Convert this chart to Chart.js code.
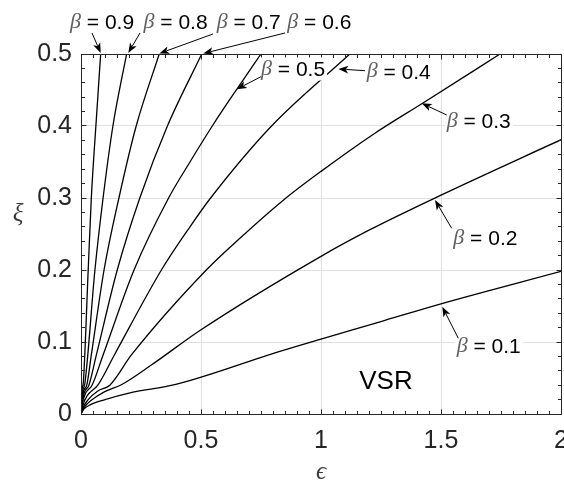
<!DOCTYPE html>
<html><head><meta charset="utf-8">
<script src="https://cdn.jsdelivr.net/npm/chart.js@4.4.0/dist/chart.umd.min.js"></script>
<style>html,body{margin:0;padding:0;background:#fff}</style>
</head><body>
<canvas id="c" width="564" height="483"></canvas>
<script>
// ---- data ----
const betaNames = ['0.1','0.2','0.3','0.4','0.5','0.6','0.7','0.8','0.9'];
const xTicks = [0, 0.5, 1, 1.5, 2];
const yTicks = [0, 0.1, 0.2, 0.3, 0.4, 0.5];

const eps_01 = [0,0.01,0.04,0.1,0.2,0.395,0.825,1.0,1.246,1.5,2.0];
const xi_01  = [0,0.006,0.013,0.02,0.029,0.041,0.0866,0.104,0.128,0.153,0.198];
const eps_02 = [0,0.015,0.043,0.099,0.17,0.293,0.5,1.0,1.204,1.5,2.0];
const xi_02  = [0,0.01,0.019,0.031,0.041,0.068,0.117,0.219,0.256,0.304,0.381];
const eps_03 = [0,0.01,0.03,0.07,0.12,0.21,0.522,0.655,0.843,1.0,1.22,1.425,1.746];
const xi_03  = [0,0.01,0.02,0.032,0.04,0.082,0.2,0.242,0.297,0.337,0.389,0.432,0.5];
const eps_04 = [0,0.008,0.025,0.07,0.139,0.335,0.454,0.54,0.794,1.12];
const xi_04  = [0,0.012,0.025,0.04,0.082,0.2,0.26,0.3,0.4,0.5];
const eps_05 = [0,0.006,0.018,0.046,0.092,0.221,0.365,0.454,0.547,0.649,0.75];
const xi_05  = [0,0.014,0.028,0.04,0.082,0.2,0.3,0.35,0.4,0.451,0.5];
const eps_06 = [0,0.005,0.014,0.033,0.064,0.151,0.245,0.36,0.503];
const xi_06  = [0,0.015,0.03,0.04,0.082,0.2,0.3,0.4,0.5];
const eps_07 = [0,0.004,0.011,0.024,0.043,0.096,0.158,0.23,0.326];
const xi_07  = [0,0.017,0.032,0.04,0.082,0.2,0.3,0.4,0.5];
const eps_08 = [0,0.003,0.008,0.016,0.058,0.092,0.133,0.19];
const xi_08  = [0,0.018,0.033,0.042,0.2,0.3,0.4,0.5];
const eps_09 = [0,0.002,0.005,0.01,0.03,0.043,0.062,0.082];
const xi_09  = [0,0.02,0.035,0.045,0.2,0.3,0.4,0.5];

const seriesEps = [eps_01,eps_02,eps_03,eps_04,eps_05,eps_06,eps_07,eps_08,eps_09];
const seriesXi  = [xi_01,xi_02,xi_03,xi_04,xi_05,xi_06,xi_07,xi_08,xi_09];

// annotation placement (data coordinates): label left/center, arrow tail, arrow tip
const notes = [
  {b:'0.9', at:[-0.0458,0.5444], tail:[0.0458,0.5292], tip:[0.0821,0.5014]},
  {b:'0.8', at:[0.2604,0.5444],  tail:[0.2458,0.5292], tip:[0.1971,0.5014]},
  {b:'0.7', at:[0.5654,0.5444],  tail:[0.55,0.5278],   tip:[0.3263,0.5007]},
  {b:'0.6', at:[0.8596,0.5444],  tail:[0.85,0.5292],   tip:[0.5096,0.5007]},
  {b:'0.5', at:[0.75,0.4792],    tail:[0.75,0.4685],   tip:[0.6488,0.451]},
  {b:'0.4', at:[1.1904,0.4754],  tail:[1.1833,0.4768], tip:[1.0721,0.4792]},
  {b:'0.3', at:[1.5238,0.406],   tail:[1.5238,0.4153], tip:[1.4196,0.4315]},
  {b:'0.2', at:[1.5513,0.244],   tail:[1.5446,0.2579], tip:[1.475,0.2972]},
  {b:'0.1', at:[1.5654,0.0935],  tail:[1.5721,0.1051], tip:[1.5054,0.149]}
];
const regionText = {text:'VSR', at:[1.2708,0.0444]};

const datasets = seriesEps.map((e,i)=>({
  label:'β = '+betaNames[i],
  data:e.map((v,j)=>({x:v,y:seriesXi[i][j]})),
  showLine:true, pointRadius:0, borderColor:'#000', borderWidth:1.3,
  cubicInterpolationMode:'monotone', fill:false
}));

const SANS = '"Liberation Sans", Arial, Helvetica, sans-serif';
const SERIF = '"Liberation Serif", "DejaVu Serif", serif';

const framePlugin = {
  id:'frame',
  afterDatasetsDraw(chart){
    const {ctx, chartArea:a, scales:{x,y}} = chart;
    const L=Math.floor(a.left)+0.5, R=Math.floor(a.right)+0.5, T=Math.floor(a.top)+0.5, B=Math.floor(a.bottom)+0.5;
    ctx.save();
    ctx.strokeStyle='#262626'; ctx.lineWidth=1;
    ctx.beginPath();
    for(let k=0;k<=40;k++){
      const v=k*0.05, px=Math.floor(x.getPixelForValue(v))+0.5, len=(k%10===0)?5:3.5;
      ctx.moveTo(px,B); ctx.lineTo(px,B-len);
      ctx.moveTo(px,T); ctx.lineTo(px,T+len);
    }
    for(let k=0;k<=25;k++){
      const v=k*0.02, py=Math.floor(y.getPixelForValue(v))+0.5, len=(k%5===0)?5:3.5;
      ctx.moveTo(L,py); ctx.lineTo(L+len,py);
      ctx.moveTo(R,py); ctx.lineTo(R-len,py);
    }
    ctx.stroke();
    ctx.strokeRect(L,T,R-L,B-T);
    ctx.restore();

    // annotations
    ctx.save();
    const fs=21;
    notes.forEach(n=>{
      const tx=x.getPixelForValue(n.at[0]), ty=y.getPixelForValue(n.at[1]);
      ctx.font='italic '+(fs+1)+'px '+SERIF;
      const wb=ctx.measureText('β').width;
      ctx.font=fs+'px '+SANS;
      const rest=' = '+n.b;
      const wr=ctx.measureText(rest).width;
      ctx.fillStyle='#fff';
      ctx.fillRect(tx-2, ty-fs*0.55, wb+wr+4, fs*1.1);
      ctx.textBaseline='middle'; ctx.textAlign='left';
      ctx.font='italic '+(fs+1)+'px '+SERIF; ctx.fillStyle='#5f5f5f';
      ctx.fillText('β',tx,ty);
      ctx.font=fs+'px '+SANS; ctx.fillStyle='#000';
      ctx.fillText(rest,tx+wb,ty+1);
      // arrow
      const x0=x.getPixelForValue(n.tail[0]), y0=y.getPixelForValue(n.tail[1]);
      const x1=x.getPixelForValue(n.tip[0]), y1=y.getPixelForValue(n.tip[1]);
      const ang=Math.atan2(y1-y0,x1-x0), hl=10, hw=3.8;
      ctx.strokeStyle='#000'; ctx.lineWidth=1;
      ctx.beginPath(); ctx.moveTo(x0,y0); ctx.lineTo(x1-Math.cos(ang)*hl*0.8,y1-Math.sin(ang)*hl*0.8); ctx.stroke();
      ctx.fillStyle='#000';
      ctx.beginPath();
      ctx.moveTo(x1,y1);
      ctx.lineTo(x1-Math.cos(ang)*hl-Math.sin(ang)*hw, y1-Math.sin(ang)*hl+Math.cos(ang)*hw);
      ctx.lineTo(x1-Math.cos(ang)*hl*0.75, y1-Math.sin(ang)*hl*0.75);
      ctx.lineTo(x1-Math.cos(ang)*hl+Math.sin(ang)*hw, y1-Math.sin(ang)*hl-Math.cos(ang)*hw);
      ctx.closePath(); ctx.fill();
    });
    ctx.font='26px '+SANS; ctx.fillStyle='#000'; ctx.textAlign='center'; ctx.textBaseline='middle';
    ctx.fillText(regionText.text, x.getPixelForValue(regionText.at[0]), y.getPixelForValue(regionText.at[1]));
    // axis titles
    ctx.font='italic 25px '+SERIF; ctx.fillStyle='#3a3a3a';
    ctx.fillText('ξ', 18, (a.top+a.bottom)/2 - 20);
    ctx.fillText('ϵ', (a.left+a.right)/2, 472);
    ctx.restore();
  }
};

new Chart(document.getElementById('c'), {
  type:'scatter',
  data:{datasets},
  options:{
    responsive:false, animation:false, devicePixelRatio:1,
    layout:{padding:{top:54,right:3,bottom:0,left:0}},
    plugins:{legend:{display:false}, tooltip:{enabled:false}},
    scales:{
      x:{type:'linear', min:0, max:2,
         afterFit(s){ s.height=69; s.paddingLeft=0; s.paddingRight=0; },
         afterBuildTicks(s){ s.ticks = xTicks.map(v=>({value:v})); },
         ticks:{font:{family:SANS,size:25}, color:'#262626', padding:12, maxRotation:0, autoSkip:false,
                callback:v=>String(v)},
         grid:{color:'#e0e0e0', lineWidth:1, drawTicks:false}, border:{display:false}},
      y:{type:'linear', min:0, max:0.5,
         afterFit(s){ s.width=81; s.paddingTop=0; s.paddingBottom=0; },
         afterBuildTicks(s){ s.ticks = yTicks.map(v=>({value:v})); },
         ticks:{font:{family:SANS,size:25}, color:'#262626', padding:9, autoSkip:false,
                callback:v=>String(v)},
         grid:{color:'#e0e0e0', lineWidth:1, drawTicks:false}, border:{display:false}}
    }
  },
  plugins:[framePlugin]
});
</script>
</body></html>
